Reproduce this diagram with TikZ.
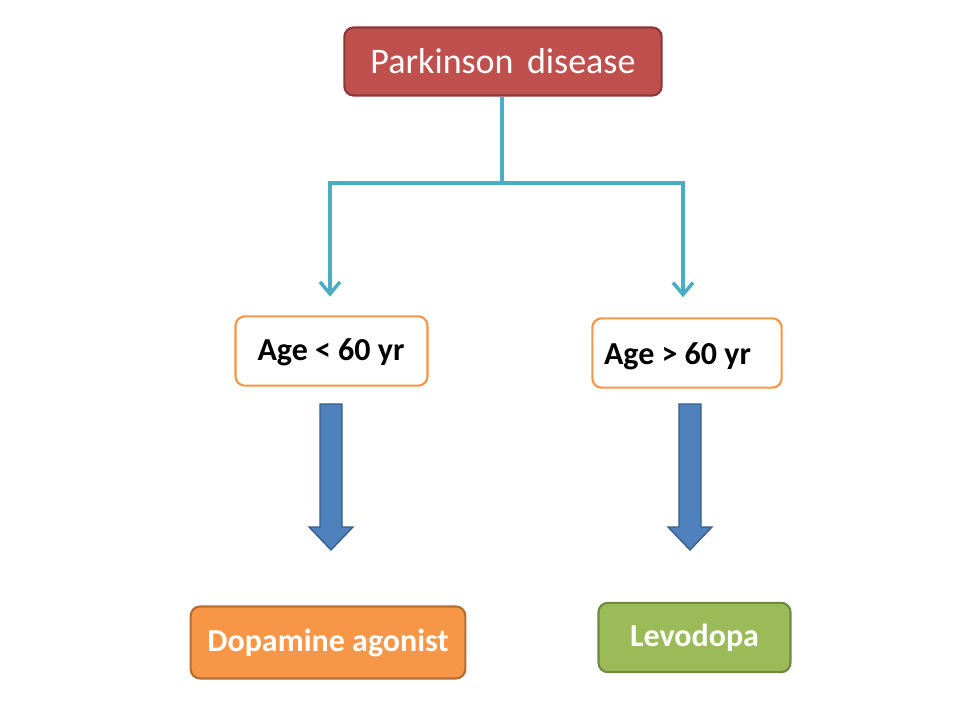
\documentclass[tikz,border=0pt]{standalone}
\usepackage{fontspec}
\setmainfont{Carlito}
\usetikzlibrary{arrows.meta,calc}
\definecolor{topred}{HTML}{C0504D}
\definecolor{topredline}{HTML}{8C3836}
\definecolor{teal}{HTML}{4BACC6}
\definecolor{orangeline}{HTML}{F79646}
\definecolor{orangefill}{HTML}{F79646}
\definecolor{orangedark}{HTML}{B66D31}
\definecolor{greenfill}{HTML}{9BBB59}
\definecolor{greendark}{HTML}{71893F}
\definecolor{bluefill}{HTML}{4F81BD}
\definecolor{bluedark}{HTML}{385D8A}
\tikzset{
  box/.style={rounded corners=7pt, line width=1.6pt, minimum height=52pt, inner sep=0pt},
  topbox/.style={box, fill=topred, draw=topredline, text=white, minimum width=238pt, minimum height=51pt, font=\fontsize{27}{30}\selectfont},
  agebox/.style={box, fill=white, draw=orangeline},
  agetext/.style={font=\fontsize{24}{28}\selectfont\bfseries},
  resbox/.style={box, text=white, font=\fontsize{24}{28}\selectfont\bfseries},
  conn/.style={draw=teal, line width=2.6pt, -{Straight Barb[length=9pt,width=15pt,line width=2.6pt]}},
  blockarrow/.style={fill=bluefill, draw=bluedark, line width=1pt},
}
\begin{document}
\begin{tikzpicture}[x=0.75pt,y=-0.75pt]
\useasboundingbox (0,0) rectangle (960,720);
\fill[white] (0,0) rectangle (960,720);
\node[topbox] (pd) at (503,61.5) {Parkinson\hspace{0.15em} disease};
\node[agebox, minimum width=144pt] (a1) at (331.5,351) {};
\node[agetext] (t1) at (331,352) {Age < 60 yr};
\node[agebox, minimum width=142pt] (a2) at (687,353) {};
\node[agetext] (t2) at (677.5,356) {Age > 60 yr};
\node[resbox, fill=orangefill, draw=orangedark, minimum width=206pt, minimum height=54pt] (da) at (328,642.5) {Dopamine agonist};
\node[resbox, fill=greenfill, draw=greendark, minimum width=144pt, minimum height=52pt] (lv) at (694.5,637.5) {Levodopa};
\coordinate (split) at (502,183);
\draw[teal, line width=2.6pt] (pd.south -| split) -- (split);
\draw[conn] (split) -| ([yshift=14pt]a1.north -| 330,0);
\draw[conn] (split) -| ([yshift=15pt]a2.north -| 683,0);
\coordinate (b1) at (331,404);
\coordinate (b2) at (690,404);
\foreach \b in {b1,b2}{
\draw[blockarrow] ($(\b)+(-11,0)$) -- ($(\b)+(11,0)$) -- ($(\b)+(11,123)$) -- ($(\b)+(22,123)$) -- ($(\b)+(0,146)$) -- ($(\b)+(-22,123)$) -- ($(\b)+(-11,123)$) -- cycle;
}
\end{tikzpicture}
\end{document}
